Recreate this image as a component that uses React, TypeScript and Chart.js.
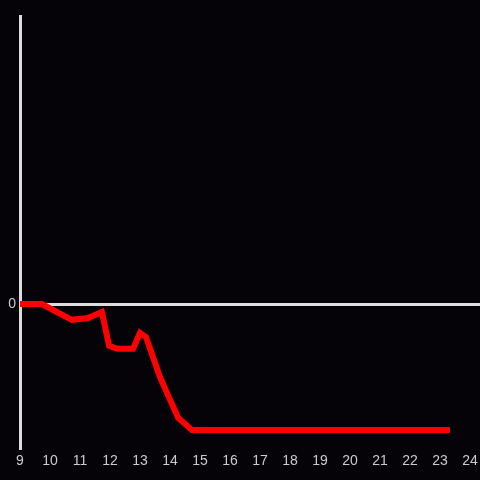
import React, { useEffect, useRef } from "react";
import { Chart, registerables } from "chart.js";

Chart.register(...registerables);

const xValues = [9, 9.73, 10.73, 11.27, 11.73, 11.97, 12.23, 12.77, 13.0, 13.2, 13.67, 14.27, 14.73, 23.33];
const yValues = [0, 0, -0.11, -0.097, -0.056, -0.29, -0.31, -0.31, -0.2, -0.23, -0.51, -0.79, -0.875, -0.875];
const xTicks = [9, 10, 11, 12, 13, 14, 15, 16, 17, 18, 19, 20, 21, 22, 23, 24];
const yTicks = [0];

export default function App() {
  const ref = useRef<HTMLCanvasElement>(null);
  useEffect(() => {
    document.body.style.margin = "0";
    document.body.style.background = "#050307";
    const bg = {
      id: "bg",
      beforeDraw(chart: any) {
        const c = chart.ctx;
        c.save();
        c.fillStyle = "#050307";
        c.fillRect(0, 0, chart.width, chart.height);
        c.restore();
      },
    };
    const chart = new Chart(ref.current!, {
      type: "line",
      data: {
        datasets: [
          {
            data: xValues.map((x, i) => ({ x, y: yValues[i] })),
            borderColor: "#ff0000",
            borderWidth: 6,
            pointRadius: 0,
            tension: 0,
            fill: false,
          },
        ],
      },
      options: {
        animation: false,
        responsive: false,
        layout: { padding: { top: 16, right: 0, left: 0, bottom: 0 } },
        plugins: { legend: { display: false }, tooltip: { enabled: false } },
        scales: {
          x: {
            type: "linear",
            min: 9,
            max: 24.333,
            afterBuildTicks: (s: any) => {
              s.ticks = xTicks.map((v) => ({ value: v }));
            },
            afterFit: (s: any) => {
              s.height = 32;
              s.paddingRight = 0;
              s.paddingLeft = 0;
            },
            grid: { display: false, drawTicks: false },
            border: { display: false },
            ticks: {
              color: "#cccccc",
              font: { family: "Liberation Sans, Arial, sans-serif", size: 14 },
              padding: 5,
              maxRotation: 0,
              autoSkip: false,
            },
          },
          y: {
            type: "linear",
            min: -1,
            max: 2,
            afterBuildTicks: (s: any) => {
              s.ticks = yTicks.map((v) => ({ value: v }));
            },
            afterFit: (s: any) => {
              s.width = 20;
            },
            grid: { color: "#dddddd", lineWidth: 3, drawTicks: false },
            border: { display: true, color: "#dddddd", width: 3 },
            ticks: {
              color: "#cccccc",
              font: { family: "Liberation Sans, Arial, sans-serif", size: 14 },
              padding: 4,
            },
          },
        },
      },
      plugins: [bg],
    });
    return () => chart.destroy();
  }, []);
  return (
    <div style={{ width: 480, height: 480, background: "#050307" }}>
      <canvas ref={ref} width={480} height={480} />
    </div>
  );
}
